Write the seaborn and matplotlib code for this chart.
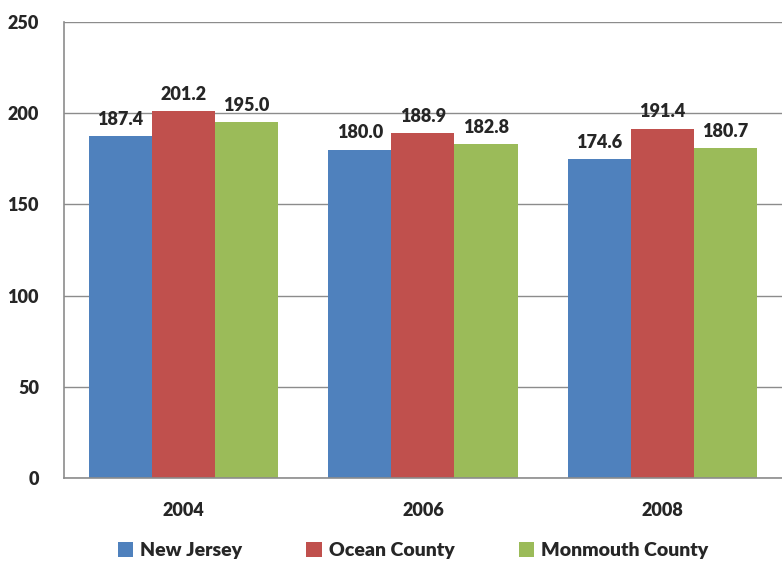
import pandas as pd
import matplotlib.pyplot as plt
import seaborn as sns

# data
years = ["2004", "2006", "2008"]
new_jersey = [187.4, 180.0, 174.6]
ocean_county = [201.2, 188.9, 191.4]
monmouth_county = [195.0, 182.8, 180.7]
series_names = ["New Jersey", "Ocean County", "Monmouth County"]
colors = ["#4F81BD", "#C0504D", "#9BBB59"]
y_ticks = [0, 50, 100, 150, 200, 250]

df = pd.DataFrame({"year": years * 3,
                   "value": new_jersey + ocean_county + monmouth_county,
                   "series": [s for s in series_names for _ in years]})

sns.set_style("white")
plt.rcParams['font.family'] = ['Lato', 'DejaVu Sans']

fig = plt.figure(figsize=(7.82, 5.61), dpi=100)
ax = fig.add_axes([0.0818, 0.148, 0.9182, 0.813])

sns.barplot(data=df, x="year", y="value", hue="series", palette=colors,
            width=0.79, saturation=1, ax=ax, edgecolor="none")

for c in ax.containers:
    ax.bar_label(c, fmt="%.1f", padding=6, fontsize=13, fontweight="heavy")

ax.set_ylim(0, 250)
ax.set_xlim(-0.5, 2.5)
ax.set_yticks(y_ticks, labels=[str(v) for v in y_ticks], fontweight="heavy", fontsize=13)
ax.set_xticks(range(len(years)), labels=years, fontweight="heavy", fontsize=13)
ax.yaxis.grid(True, color="#8c8c8c", linewidth=1)
ax.set_axisbelow(True)
ax.set_xlabel("")
ax.set_ylabel("")

for s in ["top", "right"]:
    ax.spines[s].set_visible(False)
for s in ["left", "bottom"]:
    ax.spines[s].set_color("#8c8c8c")
    ax.spines[s].set_linewidth(1.2)

ax.tick_params(axis="y", length=6, color="#8c8c8c", pad=12)
ax.tick_params(axis="x", length=0, pad=17)
ax.set_xticks([0.5, 1.5], minor=True)
ax.tick_params(axis="x", which="minor", length=6, color="#8c8c8c", direction="out")

handles, labels = ax.get_legend_handles_labels()
ax.get_legend().remove()
fig.legend(handles, labels, loc="lower center", ncol=3, frameon=False,
           bbox_to_anchor=(0.528, -0.028), prop={"size": 14, "weight": "heavy"},
           handlelength=0.8, handleheight=0.8, handletextpad=0.35, columnspacing=3.3)

fig.savefig("out.png", dpi=100)
